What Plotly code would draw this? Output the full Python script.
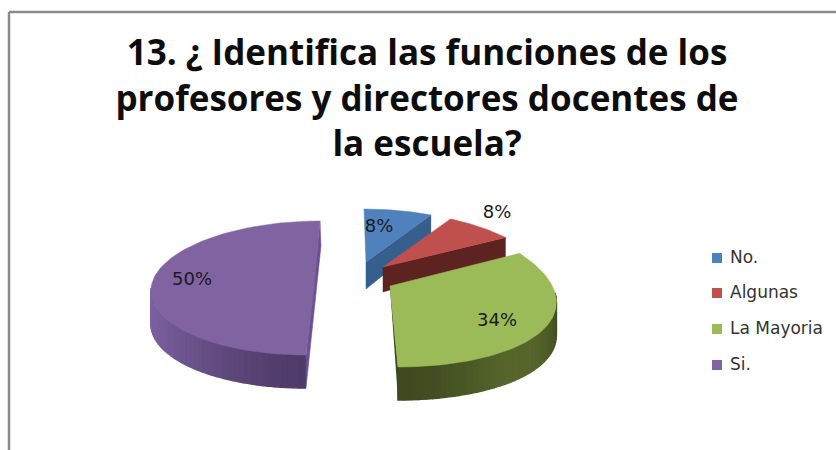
import numpy as np
import plotly.graph_objects as go

categories = ["No.", "Algunas", "La Mayoria", "Si."]
values = [8, 8, 34, 50]
title_lines = ["13. ¿ Identifica las funciones de los", "profesores y directores docentes de", "la escuela?"]

top_colors = ["#4f81bd", "#c0504d", "#9bbb59", "#8064a2"]
side_colors = ["#365f8e", "#5c2320", "#3f4a20", "#4f3b68"]
side_light = ["#365f8e", "#5c2320", "#56662b", "#7b61a0"]

# projection of each exploded slice on the page: apex, ellipse centre, radii, skew, depth, perspective
geom = [
    dict(ax=366, ay=262, ex=366, ey=257, a=157, b=48, s=-2, d=27, k=0.15),
    dict(ax=383, ay=267, ex=383, ey=267, a=157, b=55, s=0, d=25, k=0.15),
    dict(ax=390, ay=286, ex=390, ey=293, a=165, b=74, s=-8, d=33, k=0.08),
    dict(ax=314, ay=288, ex=313, ey=288, a=162, b=67, s=7, d=33, k=0.0),
]
label_pos = [(379, 227), (497, 213), (497, 321), (192, 280)]
legend_x, legend_y, legend_tx = 717, [258, 293, 329, 365], 730
legend_text_y = [259, 294, 330, 366]


def rim(g, th):
    th = np.asarray(th, dtype=float)
    p = 1 / (1 + g["k"] * np.cos(th))
    return g["ex"] + g["a"] * np.sin(th) * p + g["s"] * np.cos(th), g["ey"] - g["b"] * np.cos(th)


def mix(c1, c2, t):
    a = [int(c1[i:i + 2], 16) for i in (1, 3, 5)]
    b = [int(c2[i:i + 2], 16) for i in (1, 3, 5)]
    return "#%02x%02x%02x" % tuple(int(round(u + (v - u) * t)) for u, v in zip(a, b))


def poly(xs, ys, color, name, width=0.5):
    return go.Scatter(x=list(xs), y=list(ys), mode="lines", fill="toself", fillcolor=color,
                      line=dict(color=color, width=width), hoverinfo="skip",
                      showlegend=False, name=name)


traces = []
fr = np.cumsum([0] + values) / sum(values) * 2 * np.pi
for i in [3, 0, 1, 2]:
    g = geom[i]
    t0, t1 = fr[i], fr[i + 1]
    name = categories[i]
    lo, hi = max(t0, np.pi / 2), min(t1, 3 * np.pi / 2)
    if hi > lo:
        edges = np.linspace(lo, hi, 41)
        for j in range(40):
            th = np.linspace(edges[j], edges[j + 1], 3)
            x, y = rim(g, th)
            m = (edges[j] + edges[j + 1]) / 2
            light = max(0.0, np.sin(abs(m - np.pi))) ** 1.5 if i == 3 else max(0.0, np.sin((m - np.pi / 2) * 2)) ** 2
            c = mix(side_colors[i], side_light[i], light)
            traces.append(poly(np.r_[x, x[::-1]], np.r_[y, y[::-1] + g["d"]], c, name, width=1.5))
    x0, y0 = rim(g, t0)
    x1, y1 = rim(g, t1)
    if i == 0 or i == 1:
        traces.append(poly([x1, g["ax"], g["ax"], x1], [y1, g["ay"], g["ay"] + g["d"], y1 + g["d"] * 0.8],
                           side_colors[i], name))
    if i == 2:
        traces.append(poly([g["ax"], x1, x1], [g["ay"], y1, y1 + g["d"]], side_colors[i], name))
    if i == 3:
        traces.append(poly([x1, x1 + 1, x0, x0], [y1, y1 + 25, y0 + g["d"], y0], "#6a5190", name))
    th = np.linspace(t0, t1, 90)
    x, y = rim(g, th)
    traces.append(poly(np.r_[g["ax"], x, g["ax"]], np.r_[g["ay"], y, g["ay"]], top_colors[i], name))

traces.append(go.Scatter(x=[p[0] for p in label_pos], y=[p[1] for p in label_pos],
                         text=[f"{v}%" for v in values], mode="text", showlegend=False,
                         textposition="middle center", hoverinfo="skip",
                         textfont=dict(family="DejaVu Sans", size=18, color="#1a1a1a")))
traces.append(go.Scatter(x=[legend_x] * 4, y=legend_y, mode="markers", showlegend=False, hoverinfo="skip",
                         marker=dict(symbol="square", size=10, color=top_colors)))
traces.append(go.Scatter(x=[legend_tx] * 4, y=legend_text_y, mode="text", text=categories, showlegend=False,
                         textposition="middle right", hoverinfo="skip",
                         textfont=dict(family="DejaVu Sans", size=17, color="#333333")))

fig = go.Figure(traces)
fig.update_layout(
    width=836, height=450, margin=dict(l=0, r=0, t=0, b=0), autosize=False,
    paper_bgcolor="white", plot_bgcolor="white", showlegend=False,
    xaxis=dict(range=[0, 836], visible=False, fixedrange=True),
    yaxis=dict(range=[450, 0], visible=False, fixedrange=True),
    title=dict(text="<br>".join(title_lines), x=427 / 836, y=1 - 65 / 450, xanchor="center", yanchor="middle",
               font=dict(family="Open Sans", size=35, color="#0d0d0d", weight="bold")),
    shapes=[
        dict(type="line", x0=9, x1=9, y0=12, y1=450, xref="x", yref="y", line=dict(color="#8a8a8a", width=2.5)),
        dict(type="line", x0=9, x1=836, y0=12, y1=12, xref="x", yref="y", line=dict(color="#8a8a8a", width=2.5)),
    ],
)
fig.write_html("out.html", config=dict(displayModeBar=False),
               post_script="document.body.style.margin='0';document.documentElement.style.overflow='hidden';")
